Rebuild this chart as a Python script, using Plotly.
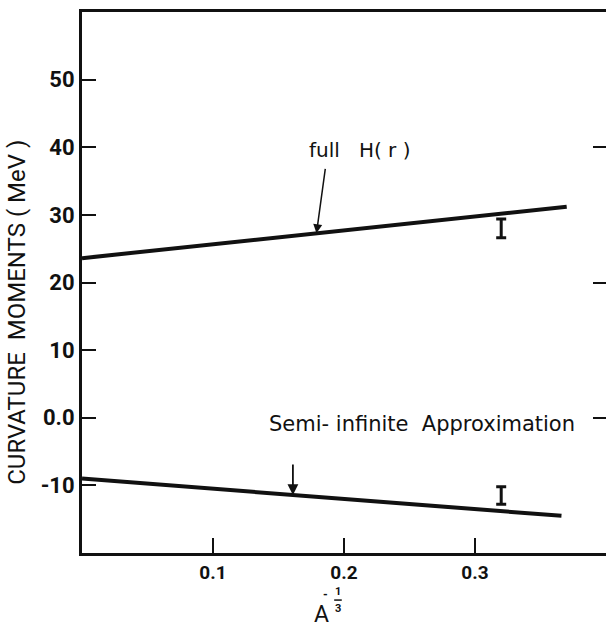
import numpy as np
import plotly.graph_objects as go

# ---- data ----
full_x = [0.0, 0.37]
full_y = [23.6, 31.2]
semi_x = [0.0, 0.366]
semi_y = [-9.0, -14.5]

err_x = [0.32, 0.32]
err_y = [28.0, -11.5]
err_half = [1.4, 1.3]

y_ticks = [-10, 0, 10, 20, 30, 40, 50]
y_ticklabels = ["-10", "0.0", "10", "20", "30", "40", "50"]
x_ticks = [0.1, 0.2, 0.3]
x_ticklabels = ["0.1", "0.2", "0.3"]
right_ticks = [0, 20, 40]

full_arrow_x = 0.179
semi_arrow_x = 0.161

X_RANGE = [0, 0.4]
Y_RANGE = [-20, 60]

FONT = "Roboto"
TXT = "DejaVu Sans"
INK = "#111111"

fig = go.Figure()
fig.add_trace(go.Scatter(x=full_x, y=full_y, mode="lines",
                         line=dict(color=INK, width=4), showlegend=False))
fig.add_trace(go.Scatter(x=semi_x, y=semi_y, mode="lines",
                         line=dict(color=INK, width=4), showlegend=False))
fig.add_trace(go.Scatter(x=err_x, y=err_y, mode="markers",
                         marker=dict(size=1, color="rgba(0,0,0,0)"),
                         error_y=dict(type="data", array=err_half, visible=True,
                                      color=INK, thickness=3, width=5),
                         showlegend=False))
# dummy trace for right axis
fig.add_trace(go.Scatter(x=[None], y=[None], yaxis="y2", showlegend=False))

fig.update_layout(
    width=606, height=628,
    margin=dict(l=82, r=0, t=12, b=75),
    plot_bgcolor="white", paper_bgcolor="white",
    font=dict(family=FONT, color=INK),
    xaxis=dict(range=X_RANGE, showgrid=False, zeroline=False,
               showline=True, linecolor=INK, linewidth=3, mirror=True,
               ticks="inside", ticklen=15, tickwidth=2, tickcolor=INK,
               tickvals=x_ticks, ticktext=x_ticklabels,
               tickfont=dict(family=FONT, size=19, weight="bold")),
    yaxis=dict(range=Y_RANGE, showgrid=False, zeroline=False,
               showline=True, linecolor=INK, linewidth=3,
               ticks="inside", ticklen=14, tickwidth=2, tickcolor=INK,
               tickvals=y_ticks, ticktext=y_ticklabels,
               tickfont=dict(family=FONT, size=22, weight="bold")),
    yaxis2=dict(range=Y_RANGE, overlaying="y", side="right", anchor="x",
                showgrid=False, zeroline=False, showline=False,
                ticks="inside", ticklen=13, tickwidth=2, tickcolor=INK,
                tickvals=right_ticks, showticklabels=False),
)

# annotation: full H(r)
full_tip_y = float(np.interp(full_arrow_x, full_x, full_y))
fig.add_annotation(x=full_arrow_x, y=full_tip_y, xref="x", yref="y",
                   text="", showarrow=True, ax=9, ay=-66,
                   arrowhead=2, arrowsize=1.2, arrowwidth=1.5, arrowcolor=INK)
fig.add_annotation(x=0.2115, y=39.6, xref="x", yref="y",
                   text="full   H( r )", showarrow=False,
                   font=dict(family=TXT, size=20))

# annotation: Semi-infinite Approximation
semi_tip_y = float(np.interp(semi_arrow_x, semi_x, semi_y))
fig.add_annotation(x=semi_arrow_x, y=semi_tip_y, xref="x", yref="y",
                   text="", showarrow=True, ax=0, ay=-32,
                   arrowhead=2, arrowsize=1.2, arrowwidth=1.8, arrowcolor=INK)
fig.add_annotation(x=0.2595, y=-0.9, xref="x", yref="y",
                   text="Semi- infinite  Approximation", showarrow=False,
                   font=dict(family=TXT, size=21))

# y-axis title
fig.add_annotation(x=-0.123, y=0.445, xref="paper", yref="paper",
                   xanchor="center", yanchor="middle",
                   text="CURVATURE  MOMENTS ( MeV )", textangle=-90,
                   showarrow=False, font=dict(family=FONT, size=24))

# x-axis title: A^{-1/3}
fig.add_annotation(x=0.183, y=-0.114, xref="x", yref="paper",
                   text="A", showarrow=False, yanchor="middle",
                   borderpad=0, font=dict(family=FONT, size=23))
fig.add_annotation(x=0.1862, y=-0.077, xref="x", yref="paper",
                   text="-", showarrow=False, yanchor="middle",
                   borderpad=0, font=dict(family=FONT, size=12, weight="bold"))
fig.add_annotation(x=0.1954, y=-0.072, xref="x", yref="paper",
                   text="1", showarrow=False, yanchor="middle",
                   borderpad=0, font=dict(family=FONT, size=11, weight="bold"))
fig.add_annotation(x=0.1954, y=-0.1035, xref="x", yref="paper",
                   text="3", showarrow=False, yanchor="middle",
                   borderpad=0, font=dict(family=FONT, size=11, weight="bold"))
fig.add_shape(type="line", xref="x", yref="paper",
              x0=0.1925, x1=0.1983, y0=-0.087, y1=-0.087,
              line=dict(color=INK, width=1.5))

fig.write_html("out.html")
